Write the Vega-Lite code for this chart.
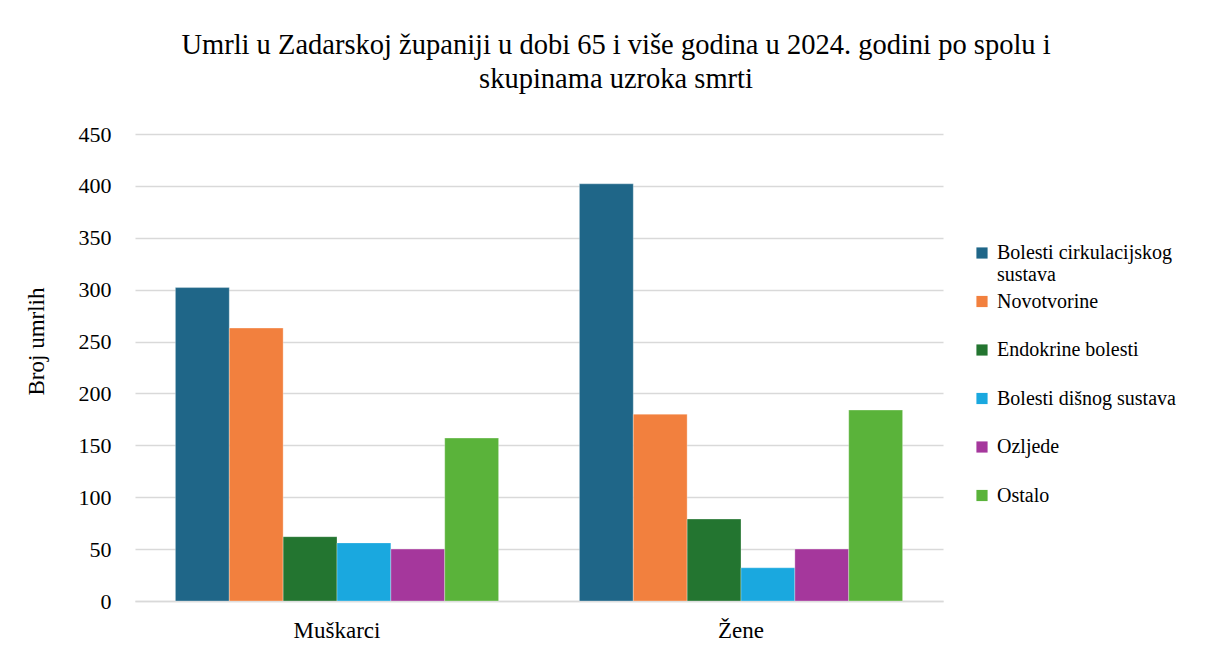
{
  "$schema": "https://vega.github.io/schema/vega-lite/v6.json",
  "autosize": {"type": "none"},
  "padding": {"left": 135, "top": 134, "right": 265, "bottom": 51},
  "width": 808,
  "height": 467,
  "background": "white",
  "title": {
    "text": ["Umrli u Zadarskoj županiji u dobi 65 i više godina u 2024. godini po spolu i", "skupinama uzroka smrti"],
    "font": "Liberation Serif",
    "fontSize": 28.5,
    "fontWeight": "normal",
    "color": "#000000",
    "lineHeight": 34,
    "anchor": "middle",
    "frame": "group",
    "dx": 77,
    "offset": 30
  },
  "data": {
    "values": [
      {"spol": "Muškarci", "uzrok": "Bolesti cirkulacijskog sustava", "broj": 302},
      {"spol": "Muškarci", "uzrok": "Novotvorine", "broj": 263},
      {"spol": "Muškarci", "uzrok": "Endokrine bolesti", "broj": 62},
      {"spol": "Muškarci", "uzrok": "Bolesti dišnog sustava", "broj": 56},
      {"spol": "Muškarci", "uzrok": "Ozljede", "broj": 50},
      {"spol": "Muškarci", "uzrok": "Ostalo", "broj": 157},
      {"spol": "Žene", "uzrok": "Bolesti cirkulacijskog sustava", "broj": 402},
      {"spol": "Žene", "uzrok": "Novotvorine", "broj": 180},
      {"spol": "Žene", "uzrok": "Endokrine bolesti", "broj": 79},
      {"spol": "Žene", "uzrok": "Bolesti dišnog sustava", "broj": 32},
      {"spol": "Žene", "uzrok": "Ozljede", "broj": 50},
      {"spol": "Žene", "uzrok": "Ostalo", "broj": 184}
    ]
  },
  "mark": {"type": "bar", "stroke": "white", "strokeWidth": 0.5, "strokeOpacity": 0.6},
  "encoding": {
    "x": {
      "field": "spol", "type": "nominal", "sort": ["Muškarci", "Žene"],
      "scale": {"paddingInner": 0.2, "paddingOuter": 0.1},
      "axis": {
        "title": null, "labelAngle": 0, "labelFont": "Liberation Serif", "labelFontSize": 23,
        "labelColor": "#000000", "labelPadding": 18, "ticks": false,
        "domainColor": "#d9d9d9", "domainWidth": 1.5
      }
    },
    "xOffset": {
      "field": "uzrok", "type": "nominal",
      "sort": ["Bolesti cirkulacijskog sustava", "Novotvorine", "Endokrine bolesti", "Bolesti dišnog sustava", "Ozljede", "Ostalo"],
      "scale": {"paddingInner": 0, "paddingOuter": 0}
    },
    "y": {
      "field": "broj", "type": "quantitative",
      "scale": {"domain": [0, 450]},
      "axis": {
        "title": "Broj umrlih", "titleFont": "Liberation Serif", "titleFontSize": 23,
        "titleFontWeight": "normal", "titleColor": "#000000", "titlePadding": 30,
        "titleAnchor": "middle", "titleY": 207,
        "values": [0, 50, 100, 150, 200, 250, 300, 350, 400, 450],
        "labelFont": "Liberation Serif", "labelFontSize": 22, "labelColor": "#000000",
        "labelPadding": 24, "ticks": false, "domain": false,
        "gridColor": "#d9d9d9", "gridWidth": 1.5
      }
    },
    "color": {
      "field": "uzrok", "type": "nominal",
      "sort": ["Bolesti cirkulacijskog sustava", "Novotvorine", "Endokrine bolesti", "Bolesti dišnog sustava", "Ozljede", "Ostalo"],
      "scale": {
        "domain": ["Bolesti cirkulacijskog sustava", "Novotvorine", "Endokrine bolesti", "Bolesti dišnog sustava", "Ozljede", "Ostalo"],
        "range": ["#1f6688", "#f2803e", "#237530", "#1aa8df", "#a5379c", "#5ab33a"]
      },
      "legend": {
        "title": null, "orient": "none", "legendX": 837, "legendY": 109,
        "symbolType": "square", "symbolSize": 125, "symbolStrokeWidth": 0,
        "labelFont": "Liberation Serif", "labelFontSize": 20, "labelColor": "#000000",
        "labelOffset": 5, "rowPadding": 6.5, "labelLimit": 300, "gridAlign": "all",
        "labelExpr": "datum.label == 'Bolesti cirkulacijskog sustava' ? ['Bolesti cirkulacijskog', 'sustava'] : datum.label"
      }
    }
  },
  "config": {"view": {"stroke": null}}
}
